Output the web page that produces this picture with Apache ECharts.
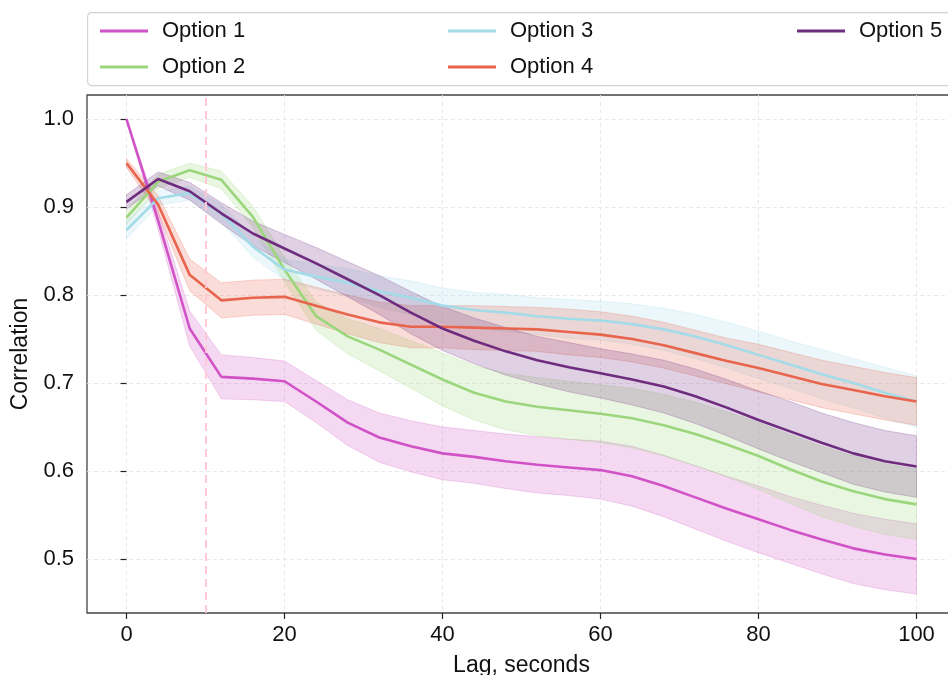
<!DOCTYPE html>
<html>
<head>
<meta charset="utf-8">
<script src="https://cdn.jsdelivr.net/npm/echarts@6/dist/echarts.min.js"></script>
<style>html,body{margin:0;padding:0;background:#fff;}#c{width:948px;height:675px;}</style>
</head>
<body>
<div id="c"></div>
<script>
const lags = [0,4,8,12,16,20,24,28,32,36,40,44,48,52,56,60,64,68,72,76,80,84,88,92,96,100];
const seriesNames = ['Option 1','Option 2','Option 3','Option 4','Option 5'];
const opt1 = [1.000,0.885,0.762,0.707,0.705,0.702,0.679,0.655,0.638,0.628,0.620,0.616,0.611,0.607,0.604,0.601,0.594,0.583,0.570,0.557,0.545,0.533,0.522,0.512,0.505,0.500];
const opt2 = [0.888,0.929,0.942,0.931,0.889,0.829,0.776,0.753,0.738,0.721,0.704,0.689,0.679,0.673,0.669,0.665,0.660,0.652,0.642,0.630,0.617,0.602,0.588,0.577,0.568,0.562];
const opt3 = [0.874,0.910,0.916,0.893,0.855,0.829,0.821,0.814,0.804,0.797,0.788,0.783,0.780,0.776,0.773,0.771,0.767,0.761,0.753,0.743,0.732,0.721,0.710,0.700,0.689,0.679];
const opt4 = [0.950,0.903,0.823,0.794,0.797,0.798,0.788,0.778,0.769,0.764,0.764,0.763,0.762,0.761,0.758,0.755,0.750,0.743,0.734,0.725,0.717,0.708,0.699,0.692,0.685,0.679];
const opt5 = [0.906,0.932,0.918,0.893,0.870,0.853,0.836,0.818,0.800,0.780,0.762,0.748,0.736,0.726,0.718,0.711,0.704,0.696,0.685,0.672,0.658,0.645,0.632,0.620,0.611,0.605];
const ci1 = [0.000,0.010,0.020,0.025,0.024,0.023,0.024,0.026,0.028,0.029,0.030,0.030,0.031,0.032,0.032,0.033,0.034,0.035,0.036,0.037,0.038,0.038,0.039,0.040,0.040,0.040];
const ci2 = [0.008,0.008,0.008,0.010,0.012,0.014,0.016,0.020,0.024,0.027,0.030,0.031,0.032,0.033,0.033,0.033,0.034,0.035,0.036,0.037,0.038,0.039,0.040,0.040,0.040,0.040];
const ci3 = [0.010,0.008,0.008,0.010,0.012,0.012,0.014,0.016,0.018,0.019,0.020,0.020,0.021,0.021,0.022,0.022,0.023,0.024,0.025,0.026,0.027,0.027,0.028,0.028,0.029,0.029];
const ci4 = [0.005,0.010,0.018,0.020,0.020,0.020,0.021,0.022,0.023,0.024,0.024,0.025,0.025,0.025,0.026,0.026,0.026,0.026,0.026,0.026,0.027,0.027,0.027,0.027,0.027,0.027];
const ci5 = [0.008,0.008,0.010,0.012,0.014,0.016,0.018,0.020,0.022,0.024,0.025,0.026,0.027,0.027,0.028,0.028,0.029,0.030,0.031,0.032,0.033,0.034,0.034,0.035,0.035,0.035];
const xTicks = [0,20,40,60,80,100];
const yTicks = [0.5,0.6,0.7,0.8,0.9,1.0];
const refLag = 10;

const means = [opt1,opt2,opt3,opt4,opt5];
const cis = [ci1,ci2,ci3,ci4,ci5];
const colors = ['#d052c6','#9bd67c','#a3dbe8','#e8644d','#6e2c7e'];
const FONT = 'Liberation Sans';

function hexA(hex, a){
  const n = parseInt(hex.slice(1),16);
  return 'rgba(' + ((n>>16)&255) + ',' + ((n>>8)&255) + ',' + (n&255) + ',' + a + ')';
}

const series = [];
series.push({
  type:'line', data:[], silent:true, z:0,
  markLine:{silent:true, symbol:['none','none'], label:{show:false},
    lineStyle:{color:'#ffc8d4', type:[8,5], width:2},
    data:[{xAxis: refLag}]}
});
means.forEach((m, k) => {
  const ci = cis[k];
  series.push({
    type:'line', name: seriesNames[k], z:2,
    data: lags.map((x,i)=>[x, m[i]]),
    symbol:'none', showSymbol:false,
    lineStyle:{color:colors[k], width:2.6},
    itemStyle:{color:colors[k]}
  });
  series.push({
    type:'custom', z:2, silent:true,
    data: lags.map((x,i)=>[x, m[i]-ci[i], m[i]+ci[i]]),
    encode:{x:0, y:[1,2]},
    renderItem: function(params, api){
      if (params.dataIndex !== 0) return null;
      const pts = [];
      for (let i=0;i<lags.length;i++) pts.push(api.coord([lags[i], m[i]+ci[i]]));
      for (let i=lags.length-1;i>=0;i--) pts.push(api.coord([lags[i], m[i]-ci[i]]));
      return {type:'polygon', shape:{points:pts},
        style:{fill:hexA(colors[k],0.22), stroke:hexA(colors[k],0.25), lineWidth:1}};
    }
  });
});

const legendCommon = {
  orient:'vertical', itemWidth:48, itemHeight:20, itemGap:14,
  icon:'path://M0,8.5 L48,8.5 L48,11.5 L0,11.5 Z',
  textStyle:{fontFamily:FONT, fontSize:22, lineHeight:20, color:'#111', padding:[0,0,0,9]}
};

const chart = echarts.init(document.getElementById('c'), null, {renderer:'canvas'});
chart.setOption({
  animation:false,
  backgroundColor:'#fff',
  graphic:[{type:'rect', left:87, top:12, z:-1,
    shape:{width:900, height:73, r:4},
    style:{fill:'#fff', stroke:'#d3d3d3', lineWidth:1.2}}],
  legend:[
    Object.assign({left:95, top:15, data:['Option 1','Option 2']}, legendCommon),
    Object.assign({left:443, top:15, data:['Option 3','Option 4']}, legendCommon),
    Object.assign({left:792, top:15, data:['Option 5']}, legendCommon)
  ],
  grid:{left:87, top:95, right:-8, bottom:62, show:true, borderColor:'#444', borderWidth:1.3,
    backgroundColor:'transparent', outerBoundsMode:'none', containLabel:false},
  xAxis:{
    type:'value', min:-5, max:105, splitNumber:5,
    name:'Lag, seconds', nameLocation:'middle', nameGap:41,
    nameTextStyle:{fontFamily:FONT, fontSize:23, color:'#111'},
    axisLine:{show:false},
    axisTick:{show:true, length:6, customValues:xTicks, lineStyle:{color:'#222', width:1.2}},
    axisLabel:{customValues:xTicks, fontFamily:FONT, fontSize:22, color:'#111', margin:11},
    splitLine:{show:true, lineStyle:{color:'#e6e6e6', type:[4,3], width:0.9}}
  },
  yAxis:{
    type:'value', min:0.4385, max:1.0275, splitNumber:6,
    name:'Correlation', nameLocation:'middle', nameGap:53, nameRotate:90,
    nameTextStyle:{fontFamily:FONT, fontSize:23, color:'#111'},
    axisLine:{show:false},
    axisTick:{show:true, length:6, customValues:yTicks, lineStyle:{color:'#222', width:1.2}},
    axisLabel:{customValues:yTicks, fontFamily:FONT, fontSize:22, color:'#111', margin:13,
      formatter:v=>v.toFixed(1)},
    splitLine:{show:true, lineStyle:{color:'#e6e6e6', type:[4,3], width:0.9}}
  },
  series: series
});
</script>
</body>
</html>
